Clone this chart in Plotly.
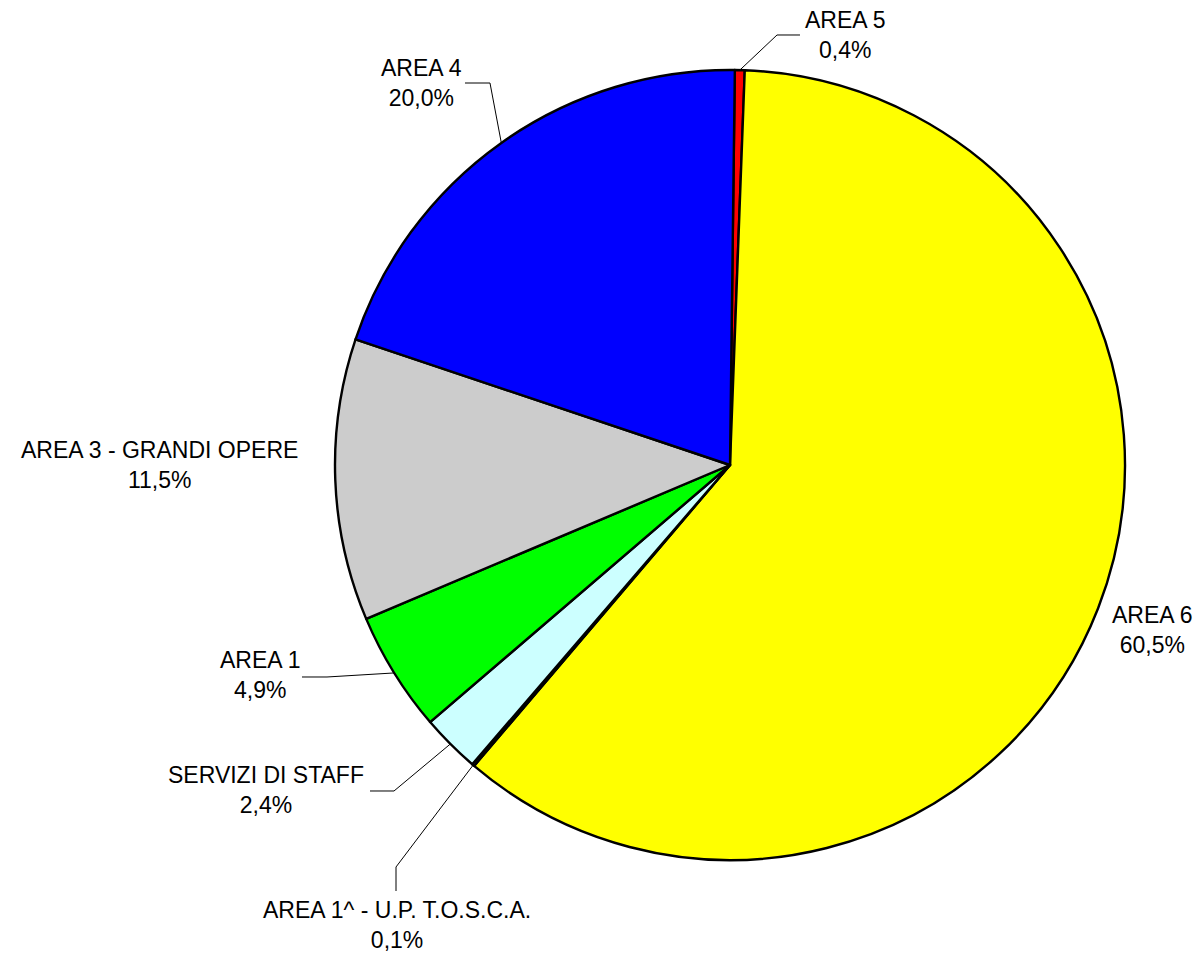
import math
import plotly.graph_objects as go

# ---- data ----
labels = ["AREA 5", "AREA 6", "AREA 1^ - U.P. T.O.S.C.A.", "SERVIZI DI STAFF",
          "AREA 1", "AREA 3 - GRANDI OPERE", "AREA 4"]
values = [0.4, 60.5, 0.1, 2.4, 4.9, 11.5, 20.0]
colors = ["#FF0000", "#FFFF00", "#FFFFCC", "#CCFFFF", "#00FF00", "#CCCCCC", "#0000FF"]

# ---- layout constants (page pixels) ----
PAGE_W, PAGE_H = 1201, 955
OFF = 8  # default body margin of the html page
W, H = PAGE_W - 2 * OFF, PAGE_H - OFF
CX, CY, R = 730, 465, 395
ROTATION = 0.7
FONT = dict(family="Liberation Sans, Arial, sans-serif", size=23, color="black")

# label block centres and leader elbow points (page pixels), per slice
label_pos = [(845, 35), (1152, 630), (397, 925), (266, 790), (260, 675), (159, 465), (421, 83)]
leader_pts = [
    [(777, 35), (800, 35)],
    None,
    [(396, 867), (396, 891)],
    [(394, 791), (370, 791)],
    [(327, 677), (302, 677)],
    None,
    [(490, 83), (465, 83)],
]


def px(x):
    return (x - OFF) / W


def py(y):
    return 1 - (y - OFF) / H


fig = go.Figure(go.Pie(
    labels=labels,
    values=values,
    sort=False,
    direction="clockwise",
    rotation=ROTATION,
    textinfo="none",
    hoverinfo="label+percent",
    marker=dict(colors=colors, line=dict(color="black", width=2.4)),
    domain=dict(x=[px(CX - R), px(CX + R)], y=[py(CY + R), py(CY - R)]),
    showlegend=False,
))

total = sum(values)
cum = 0.0
shapes = []
annotations = []
for i, (lab, v) in enumerate(zip(labels, values)):
    mid = math.radians(ROTATION + (cum + v / 2) / total * 360)
    cum += v
    ex = CX + R * math.sin(mid)
    ey = CY - R * math.cos(mid)
    pct = f"{v:.1f}".replace(".", ",") + "%"
    txt = f"{lab}<br>{pct}"
    lx, ly = label_pos[i]
    annotations.append(dict(x=px(lx), y=py(ly), xref="paper", yref="paper",
                            text=txt, showarrow=False, font=FONT,
                            xanchor="center", yanchor="middle", align="center"))
    if leader_pts[i]:
        pts = [(ex, ey)] + leader_pts[i]
        path = "M " + " L ".join(f"{px(a):.5f},{py(b):.5f}" for a, b in pts)
        shapes.append(dict(type="path", path=path, xref="paper", yref="paper",
                           line=dict(color="black", width=1)))

fig.update_layout(
    width=W, height=H,
    margin=dict(l=0, r=0, t=0, b=0),
    paper_bgcolor="white",
    plot_bgcolor="white",
    shapes=shapes,
    annotations=annotations,
)

fig.write_html("out.html")
